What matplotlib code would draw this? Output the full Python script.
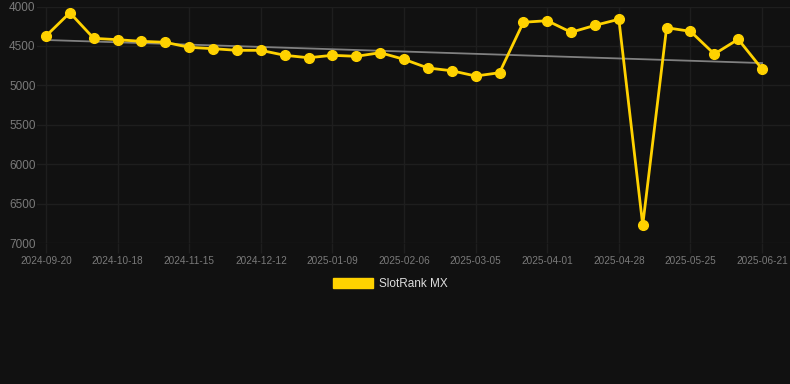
import matplotlib
matplotlib.use("Agg")
import matplotlib.pyplot as plt
from matplotlib.patches import Patch
import numpy as np

# weekly-ish rank values (lower rank number = better)
rank = [4374, 4079, 4404, 4421, 4442, 4454, 4518, 4535, 4556, 4556,
        4619, 4650, 4619, 4632, 4586, 4670, 4780, 4815, 4882, 4840,
        4200, 4180, 4327, 4239, 4162, 6773, 4269, 4315, 4603, 4416,
        4793]
tick_labels = ['2024-09-20', '2024-10-18', '2024-11-15', '2024-12-12',
               '2025-01-09', '2025-02-06', '2025-03-05', '2025-04-01',
               '2025-04-28', '2025-05-25', '2025-06-21']
y_ticks = [4000, 4500, 5000, 5500, 6000, 6500, 7000]

bg = '#111111'
gold = '#FFD200'
grid_col = '#1e1e1e'
label_col = '#7a7a7a'

plt.rcParams['font.family'] = ['Liberation Sans', 'DejaVu Sans']

x = np.arange(len(rank))

fig = plt.figure(figsize=(7.9, 3.84), dpi=100, facecolor=bg)
ax = fig.add_axes([37 / 790, 1 - 243 / 384, 1 - 37 / 790, (243 - 6.5) / 384])
ax.set_facecolor(bg)

# trend line (least squares)
k, b = np.polyfit(x, rank, 1)
ax.plot(x, k * x + b, color='#808080', linewidth=1.3, zorder=2)

ax.plot(x, rank, color=gold, linewidth=2.0, marker='o', markersize=7,
        solid_joinstyle='miter', zorder=3)

ax.set_ylim(7000, 4000)
ax.set_xlim(-0.377, 31.17)
ax.set_yticks(y_ticks)
ax.set_yticklabels([str(v) for v in y_ticks])
ax.set_xticks(x[::3])
ax.set_xticklabels(tick_labels)

ax.grid(True, color=grid_col, linewidth=1.0)
ax.set_axisbelow(True)
for s in ax.spines.values():
    s.set_visible(False)
ax.tick_params(axis='y', length=0, pad=1, labelsize=8.5, labelcolor=label_col)
ax.tick_params(axis='x', length=7, color=grid_col, width=1.0, pad=2,
               labelsize=7.2, labelcolor=label_col)

handle = Patch(facecolor=gold, edgecolor=gold)
fig.legend([handle], ['SlotRank MX'], loc='center', bbox_to_anchor=(390 / 790, 1 - 284 / 384),
           frameon=False, fontsize=8.5, labelcolor='#dddddd',
           handlelength=3.4, handleheight=0.95, handletextpad=0.5)

fig.savefig('out.png', dpi=100, facecolor=bg)
